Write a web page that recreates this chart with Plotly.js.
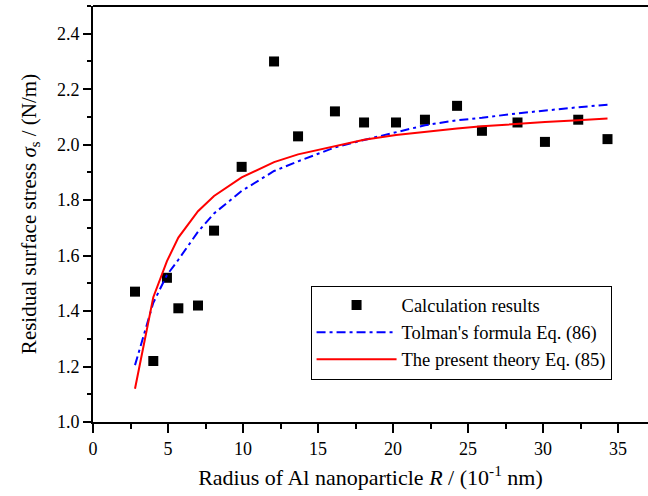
<!DOCTYPE html>
<html>
<head>
<meta charset="utf-8">
<script src="https://cdn.plot.ly/plotly-3.0.1.min.js"></script>
<style>html,body{margin:0;padding:0;background:#fff}#plot{width:648px;height:496px}</style>
</head>
<body>
<div id="plot"></div>
<script>
// Radius R (10^-1 nm)
var radius = [2.8, 4.02, 4.93, 5.69, 7.0, 8.07, 9.91, 12.07, 13.67, 16.13, 18.07, 20.2, 22.13, 24.27, 25.93, 28.3, 30.13, 32.35, 34.3];
// Calculation results (N/m)
var calcResults = [1.47, 1.22, 1.52, 1.41, 1.42, 1.69, 1.92, 2.30, 2.03, 2.12, 2.08, 2.08, 2.09, 2.14, 2.05, 2.08, 2.01, 2.09, 2.02];
// Tolman's formula Eq. (86)
var tolman = [1.205, 1.43, 1.53, 1.585, 1.686, 1.752, 1.833, 1.905, 1.94, 1.99, 2.017, 2.045, 2.07, 2.088, 2.097, 2.113, 2.124, 2.135, 2.144];
// The present theory Eq. (85)
var present = [1.12, 1.45, 1.58, 1.665, 1.76, 1.815, 1.882, 1.937, 1.965, 1.995, 2.018, 2.035, 2.047, 2.058, 2.066, 2.076, 2.082, 2.088, 2.094];

var font = "'Liberation Serif', 'Times New Roman', serif";

var traces = [
  {x: radius, y: calcResults, mode: 'markers', type: 'scatter', name: 'Calculation results',
   marker: {symbol: 'square', size: 10, color: '#000'}},
  {x: radius, y: tolman, mode: 'lines', type: 'scatter', name: "Tolman's formula Eq. (86)",
   line: {color: '#0000ff', width: 2, dash: '9px,4px,3px,4px'}},
  {x: radius, y: present, mode: 'lines', type: 'scatter', name: 'The present theory Eq. (85)',
   line: {color: '#ff0000', width: 2}}
];

var layout = {
  width: 648, height: 496,
  margin: {l: 93, r: 0, t: 6, b: 74},
  paper_bgcolor: '#fff', plot_bgcolor: '#fff',
  font: {family: font, size: 18, color: '#000'},
  showlegend: true,
  legend: {x: 0.392, y: 0.328, xanchor: 'left', yanchor: 'top',
    bordercolor: '#000', borderwidth: 1, bgcolor: '#fff', itemwidth: 80,
    font: {family: font, size: 18.5, color: '#000'}, tracegroupgap: 0},
  xaxis: {
    range: [0, 37], showgrid: false, zeroline: false,
    showline: true, linecolor: '#000', linewidth: 2, mirror: false,
    ticks: 'outside', ticklen: 9, tickwidth: 2, tickcolor: '#000',
    tick0: 0, dtick: 5,
    minor: {ticks: 'outside', ticklen: 5, tickwidth: 2, tickcolor: '#000', dtick: 2.5, tick0: 0},
    tickfont: {family: font, size: 18},
    title: {text: 'Radius of Al nanoparticle <i>R</i> / (10<sup>-1</sup> nm)', font: {family: font, size: 22}, standoff: 12}
  },
  yaxis: {
    range: [1.0, 2.5], showgrid: false, zeroline: false,
    showline: true, linecolor: '#000', linewidth: 2,
    ticks: 'outside', ticklen: 8, tickwidth: 2, tickcolor: '#000',
    tick0: 1.0, dtick: 0.2, tickformat: '.1f',
    minor: {ticks: 'outside', ticklen: 4, tickwidth: 2, tickcolor: '#000', dtick: 0.1},
    tickfont: {family: font, size: 18},
    title: {text: 'Residual surface stress <i>σ</i><sub>s</sub> / (N/m)', font: {family: font, size: 21}, standoff: 15}
  },
  shapes: [
    {type: 'line', xref: 'paper', yref: 'paper', x0: 0, x1: 1, y0: 1, y1: 1, line: {color: '#000', width: 2}}
  ]
};

Plotly.newPlot('plot', traces, layout, {displayModeBar: false, staticPlot: true});
</script>
</body>
</html>
